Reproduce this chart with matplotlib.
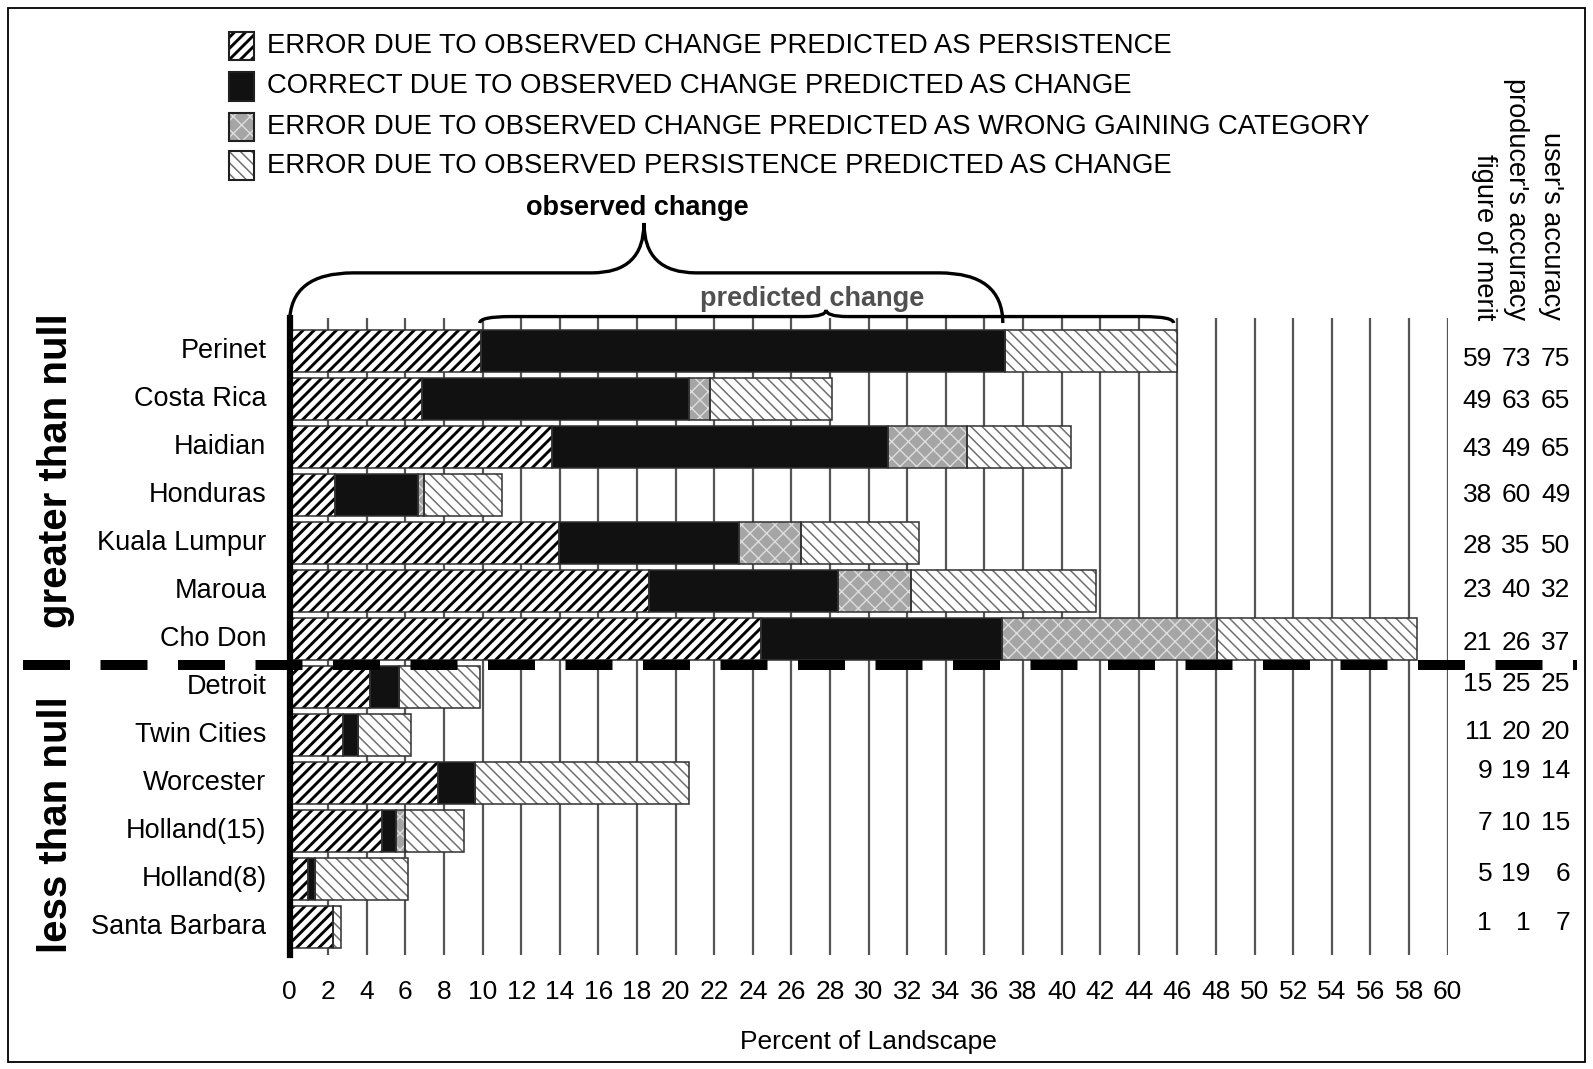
import matplotlib
matplotlib.use('Agg')
import matplotlib.pyplot as plt
from matplotlib.path import Path
from matplotlib.patches import PathPatch, Rectangle

####################################################################################################

sites = ['Perinet', 'Costa Rica', 'Haidian', 'Honduras', 'Kuala Lumpur', 'Maroua', 'Cho Don',
         'Detroit', 'Twin Cities', 'Worcester', 'Holland(15)', 'Holland(8)', 'Santa Barbara']

# percent of landscape, one value per site
miss_persist = [9.9, 6.85, 13.6, 2.35, 13.95, 18.6, 24.4, 4.15, 2.75, 7.7, 4.8, 0.95, 2.25]
hit_change = [27.15, 13.85, 17.4, 4.3, 9.35, 9.8, 12.5, 1.5, 0.8, 1.9, 0.7, 0.35, 0.0]
wrong_gain = [0.0, 1.1, 4.1, 0.3, 3.2, 3.8, 11.15, 0.0, 0.0, 0.0, 0.5, 0.0, 0.0]
false_change = [8.95, 6.3, 5.4, 4.05, 6.1, 9.6, 10.35, 4.2, 2.75, 11.1, 3.05, 4.85, 0.4]

figure_of_merit = [59, 49, 43, 38, 28, 23, 21, 15, 11, 9, 7, 5, 1]
producers_acc = [73, 63, 49, 60, 35, 40, 26, 25, 20, 19, 10, 19, 1]
users_acc = [75, 65, 65, 49, 50, 32, 37, 25, 20, 14, 15, 6, 7]

legend_labels = ['ERROR DUE TO OBSERVED CHANGE PREDICTED AS PERSISTENCE',
                 'CORRECT DUE TO OBSERVED CHANGE PREDICTED AS CHANGE',
                 'ERROR DUE TO OBSERVED CHANGE PREDICTED AS WRONG GAINING CATEGORY',
                 'ERROR DUE TO OBSERVED PERSISTENCE PREDICTED AS CHANGE']

####################################################################################################

plt.rcParams['font.family'] = ['Liberation Sans', 'DejaVu Sans']
plt.rcParams['hatch.linewidth'] = 1.6

# face, hatch, hatch colour, hatch width
styles = [('white', '///', 'black', 2.1),
          ('#111111', None, '#111111', 1.0),
          ('#a5a5a5', 'xx', '#dedede', 1.0),
          ('white', '\\\\\\', '#707070', 1.1)]

W, H = 1593, 1069
figure1 = plt.figure(figsize=(W / 100, H / 100), dpi=100)
ax = figure1.add_axes([289.6 / W, 1 - 955 / H, (1447.7 - 289.6) / W, (955 - 318) / H])

y = list(range(len(sites)))
bar_h = 0.87


def hatched_barh(ax, widths, lefts, style):
    face, hatch, hcolor, hlw = style
    with plt.rc_context({'hatch.linewidth': hlw}):
        bars = ax.barh(y, widths, left=lefts, height=bar_h, color=face, hatch=hatch,
                       edgecolor=hcolor, linewidth=0, zorder=2)
    for b in bars:
        if hasattr(b, 'set_hatch_linewidth'):
            b.set_hatch_linewidth(hlw)
    ax.barh(y, widths, left=lefts, height=bar_h, fill=False, edgecolor='#303030',
            linewidth=1.1, zorder=3)


left = [0.0] * len(sites)
for values, style in zip([miss_persist, hit_change, wrong_gain, false_change], styles):
    shown = [v if v > 0 else 0 for v in values]
    hatched_barh(ax, shown, left, style)
    left = [l + v for l, v in zip(left, shown)]

ax.set_xlim(0, 60)
ax.set_ylim(12.59, -0.68)
ax.set_xticks(range(0, 61, 2))
ax.set_yticks([])
ax.tick_params(axis='x', length=0, pad=18, labelsize=19)
ax.grid(axis='x', color='#555555', linewidth=1.6, zorder=0)
ax.set_axisbelow(True)
for side in ['top', 'right', 'bottom']:
    ax.spines[side].set_visible(False)
ax.spines['left'].set_linewidth(4.5)
ax.spines['left'].set_zorder(5)
ax.set_xlabel('Percent of Landscape', fontsize=19, labelpad=19)

# site names
for i, name in enumerate(sites):
    ax.text(-1.2, i, name, ha='right', va='center', fontsize=19.5, clip_on=False)

# group labels and the null-line
ax.text(-12.1, 2.49, 'greater than null', rotation=90, ha='center', va='center',
        fontsize=29, fontweight='bold')
ax.text(-12.1, 9.88, 'less than null', rotation=90, ha='center', va='center',
        fontsize=29, fontweight='bold')
ax.plot([-13.8, 66.7], [6.55, 6.55], color='black', lw=7.2, dashes=(4.7, 3.05),
        clip_on=False, zorder=6)

# accuracy columns
num_dy = [0.17, 0.04, 0.04, 0, 0.06, -0.02, 0.08, -0.06, -0.06, -0.25, -0.17, -0.1, -0.08]
for col_x, col in zip([62.3, 64.3, 66.35], [figure_of_merit, producers_acc, users_acc]):
    for i, v in enumerate(col):
        ax.text(col_x, i + num_dy[i], str(v), ha='right', va='center', fontsize=19,
                clip_on=False)
for col_x, head in zip([61.9, 63.55, 65.35], ['figure of merit', "producer's accuracy",
                                              "user's accuracy"]):
    ax.text(col_x, -0.64, head, rotation=270, ha='center', va='bottom', fontsize=19.5,
            clip_on=False)

####################################################################################################

def brace(ax, x0, x1, xm, y_end, y_bar, y_tip, r, w, lw):
    verts = [(x0, y_end), (x0, y_bar), (x0 + r, y_bar),
             (xm - w, y_bar), (xm, y_bar), (xm, y_tip),
             (xm, y_bar), (xm + w, y_bar),
             (x1 - r, y_bar), (x1, y_bar), (x1, y_end)]
    codes = [Path.MOVETO, Path.CURVE3, Path.CURVE3, Path.LINETO, Path.CURVE3, Path.CURVE3,
             Path.CURVE3, Path.CURVE3, Path.LINETO, Path.CURVE3, Path.CURVE3]
    ax.add_patch(PathPatch(Path(verts, codes), fill=False, lw=lw, color='black',
                           clip_on=False, zorder=7))


brace(ax, 0.0, 36.95, 18.36, -0.575, -1.62, -2.66, 3.3, 2.7, 2.4)
ax.text(18.0, -2.97, 'observed change', ha='center', va='center', fontsize=19.5,
        fontweight='bold')
brace(ax, 9.85, 45.8, 27.8, -0.575, -0.71, -0.85, 1.6, 1.1, 2.4)
ax.text(27.05, -1.07, 'predicted change', ha='center', va='center', fontsize=19.5,
        fontweight='bold', color='#505050')

# legend
rows = [45.7, 86.4, 127.0, 165.6]
for (face, hatch, hcolor, hlw), label, row in zip(styles, legend_labels, rows):
    with plt.rc_context({'hatch.linewidth': hlw}):
        p = Rectangle((228.6 / W, 1 - (row + 14.2) / H), 25.4 / W, 28.4 / H,
                      transform=figure1.transFigure, facecolor=face, hatch=hatch,
                      edgecolor=hcolor, linewidth=0)
    if hasattr(p, 'set_hatch_linewidth'):
        p.set_hatch_linewidth(hlw)
    figure1.add_artist(p)
    figure1.add_artist(Rectangle((228.6 / W, 1 - (row + 14.2) / H), 25.4 / W, 28.4 / H,
                                 transform=figure1.transFigure, fill=False,
                                 edgecolor='#202020', linewidth=1.5))
    figure1.text(267 / W, 1 - row / H, label, ha='left', va='center', fontsize=19.8)

# frame round the whole picture
figure1.add_artist(Rectangle((8 / W, 1 - 1062 / H), 1577 / W, 1054 / H,
                             transform=figure1.transFigure, fill=False, edgecolor='black',
                             linewidth=1.3))

figure1.savefig('out.png', dpi=100)
